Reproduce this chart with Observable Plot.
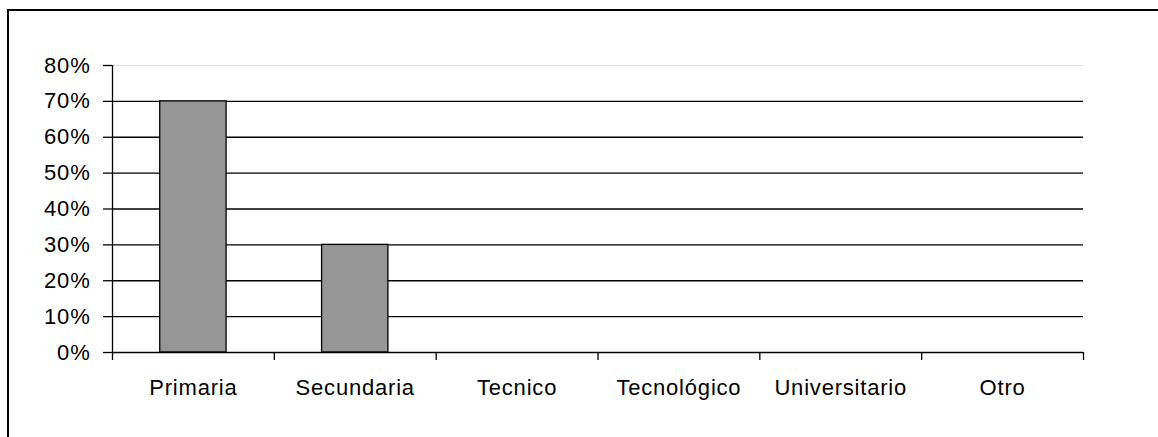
<!DOCTYPE html>
<html>
<head>
<meta charset="utf-8">
<script src="https://cdn.jsdelivr.net/npm/d3@7"></script>
<script src="https://cdn.jsdelivr.net/npm/@observablehq/plot@0.6"></script>
<style>
  html, body { margin: 0; padding: 0; background: #fff; overflow: hidden; }
  #wrap { position: relative; width: 1158px; height: 437px; }
  #frame { position: absolute; left: 7px; top: 9px; width: 1200px; height: 500px; border-left: 2px solid #000; border-top: 2px solid #000; pointer-events: none; }
  #chart { position: absolute; left: 0; top: 0; }
  #chart svg text { letter-spacing: 0.8px; }
</style>
</head>
<body>
<div id="wrap"><div id="chart"></div><div id="frame"></div></div>
<script>
const categories = ["Primaria", "Secundaria", "Tecnico", "Tecnológico", "Universitario", "Otro"];
const values = [0.70, 0.30, 0, 0, 0, 0];
const yTicks = [0, 0.1, 0.2, 0.3, 0.4, 0.5, 0.6, 0.7, 0.8];

const data = categories.map((c, i) => ({cat: c, i, v: values[i]}));
const barHalf = 0.205;

const chart = Plot.plot({
  width: 1158,
  height: 437,
  marginLeft: 112,
  marginRight: 75,
  marginTop: 65,
  marginBottom: 85,
  style: {fontFamily: "Arial, 'Liberation Sans', sans-serif", fontSize: "22px", color: "#000", background: "transparent"},
  x: {type: "linear", domain: [0, categories.length], axis: null},
  y: {domain: [0, 0.8], axis: null},
  marks: [
    Plot.ruleY(yTicks.filter(t => t > 0 && t < 0.8), {stroke: "#000", strokeWidth: 1.3}),
    Plot.ruleY([0.8], {stroke: "#e0e0e0", strokeWidth: 1}),
    Plot.rectY(data.filter(d => d.v > 0), {x1: d => d.i + 0.5 - barHalf, x2: d => d.i + 0.5 + barHalf, y1: 0, y2: "v", fill: "#969696", stroke: "#000", strokeWidth: 1.3}),
    Plot.ruleY([0], {stroke: "#000", strokeWidth: 1.5}),
    Plot.ruleX([0], {y1: 0, y2: 0.8, stroke: "#000", strokeWidth: 1.3}),
    Plot.axisY({ticks: yTicks, tickFormat: d3.format(".0%"), tickSize: 9, tickPadding: 13, strokeWidth: 1.3, fontSize: 22, label: null}),
    Plot.axisX({ticks: d3.range(categories.length + 1), tickFormat: () => "", tickSize: 8, strokeWidth: 1.3, label: null}),
    Plot.axisX({ticks: categories.map((c, i) => i + 0.5), tickFormat: d => categories[Math.floor(d)], tickSize: 0, tickPadding: 27, fontSize: 22, label: null})
  ]
});
document.getElementById("chart").appendChild(chart);
</script>
</body>
</html>
